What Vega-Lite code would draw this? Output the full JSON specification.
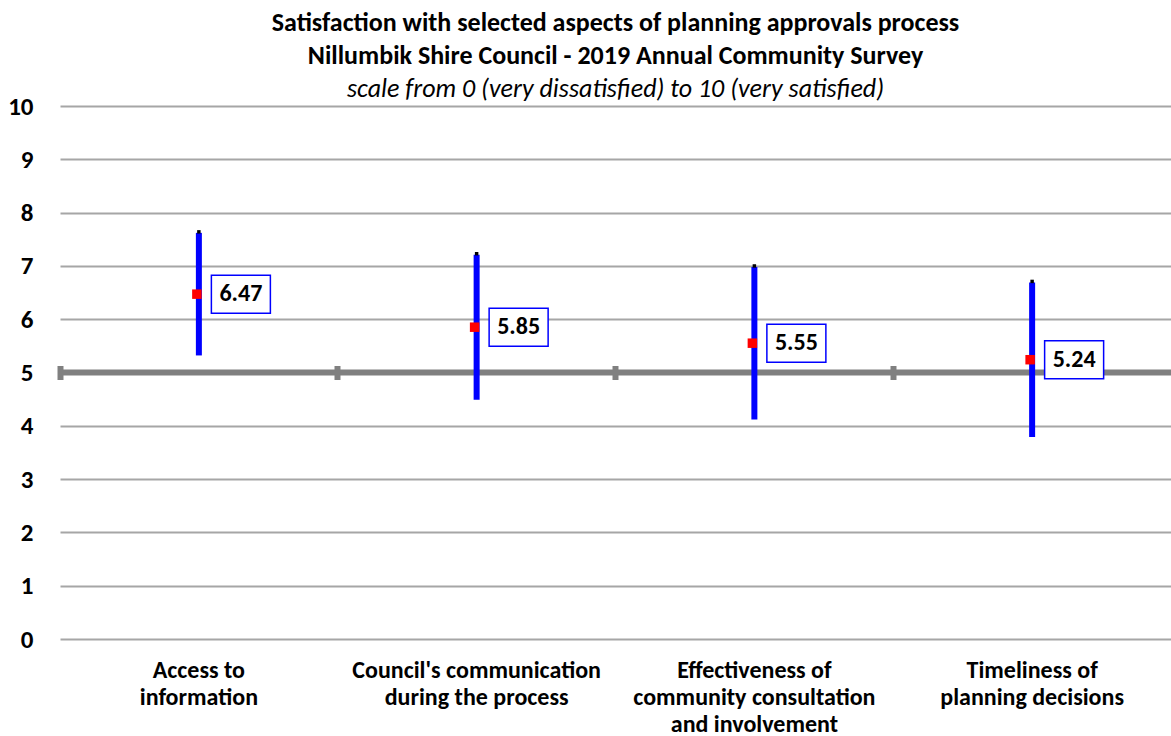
{
  "$schema": "https://vega.github.io/schema/vega-lite/v6.json",
  "width": 1111,
  "height": 533,
  "autosize": {"type": "none"},
  "padding": {"left": 60, "top": 106, "right": 0, "bottom": 97},
  "background": "white",
  "title": {
    "text": ["Satisfaction  with selected aspects of planning  approvals process", "Nillumbik Shire Council - 2019 Annual  Community Survey"],
    "subtitle": "scale from 0 (very dissatisfied) to 10 (very satisfied)",
    "font": "Carlito, Liberation Sans Narrow, Liberation Sans",
    "fontSize": 26,
    "fontWeight": "bold",
    "lineHeight": 33,
    "color": "black",
    "subtitleFont": "Carlito, Liberation Sans Narrow, Liberation Sans",
    "subtitleFontSize": 26,
    "subtitleFontStyle": "italic",
    "subtitleColor": "black",
    "subtitleLineHeight": 33,
    "subtitlePadding": 7,
    "anchor": "middle",
    "offset": -8
  },
  "config": {"view": {"stroke": null}},
  "data": {
    "values": [
      {"aspect": "Access to information", "mean": 6.47, "lo": 5.32, "hi": 7.62},
      {"aspect": "Council's communication during the process", "mean": 5.85, "lo": 4.49, "hi": 7.21},
      {"aspect": "Effectiveness of community consultation and involvement", "mean": 5.55, "lo": 4.12, "hi": 6.98},
      {"aspect": "Timeliness of planning decisions", "mean": 5.24, "lo": 3.79, "hi": 6.69}
    ]
  },
  "resolve": {"axis": {"x": "independent"}},
  "layer": [
    {
      "data": {"values": [{}]},
      "mark": {"type": "rule", "color": "#808080", "strokeWidth": 6},
      "encoding": {
        "y": {"datum": 5, "type": "quantitative", "scale": {"domain": [0, 10]},
          "axis": {"values": [0,1,2,3,4,5,6,7,8,9,10], "grid": true, "gridColor": "#a6a6a6", "gridWidth": 2, "ticks": false, "domain": false,
            "labelFont": "Carlito, Liberation Sans Narrow, Liberation Sans", "labelFontSize": 25, "labelFontWeight": "bold", "labelColor": "black", "labelPadding": 27, "title": null}}
      }
    },
    {
      "mark": {"type": "rule", "color": "#0000ff", "strokeWidth": 6},
      "encoding": {
        "x": {"field": "aspect", "type": "nominal", "sort": null, "scale": {"paddingInner": 0, "paddingOuter": 0},
          "axis": {"orient": "bottom", "title": null, "domain": false, "ticks": false, "labelAngle": 0, "labelLimit": 0,
            "labelFont": "Carlito, Liberation Sans Narrow, Liberation Sans", "labelFontSize": 24, "labelFontWeight": "bold", "labelColor": "black", "labelPadding": 19, "labelLineHeight": 27,
            "labelExpr": "datum.value == 'Access to information' ? ['Access to', 'information'] : datum.value == \"Council's communication during the process\" ? [\"Council's communication\", 'during the process'] : datum.value == 'Effectiveness of community consultation and involvement' ? ['Effectiveness of', 'community consultation', 'and involvement'] : ['Timeliness of', 'planning decisions']"}},
        "y": {"field": "lo", "type": "quantitative"},
        "y2": {"field": "hi"}
      }
    },
    {
      "mark": {"type": "point", "shape": "square", "filled": true, "color": "black", "size": 12, "yOffset": -1, "opacity": 1},
      "encoding": {
        "x": {"field": "aspect", "type": "nominal", "sort": null, "axis": null},
        "y": {"field": "hi", "type": "quantitative"}
      }
    },
    {
      "mark": {"type": "point", "shape": "square", "filled": true, "color": "#ff0000", "size": 90, "xOffset": -2, "opacity": 1},
      "encoding": {
        "x": {"field": "aspect", "type": "nominal", "sort": null, "axis": null},
        "y": {"field": "mean", "type": "quantitative"}
      }
    },
    {
      "mark": {"type": "point", "shape": "M -1 -0.644 L 1 -0.644 L 1 0.644 L -1 0.644 Z", "filled": true, "fill": "white", "stroke": "#0000ff", "strokeWidth": 1.5, "size": 3481, "xOffset": 42, "opacity": 1, "fillOpacity": 1, "strokeOpacity": 1},
      "encoding": {
        "x": {"field": "aspect", "type": "nominal", "sort": null,
          "axis": {"orient": "top", "offset": -273.5, "bandPosition": 0, "domain": false, "labels": false, "ticks": true, "tickSize": 14, "tickWidth": 6, "tickColor": "#808080", "title": null, "grid": false}},
        "y": {"field": "mean", "type": "quantitative"}
      }
    },
    {
      "mark": {"type": "text", "xOffset": 42, "font": "Carlito, Liberation Sans Narrow, Liberation Sans", "fontSize": 24, "fontWeight": "bold", "color": "black", "align": "center", "baseline": "middle"},
      "encoding": {
        "x": {"field": "aspect", "type": "nominal", "sort": null, "axis": null},
        "y": {"field": "mean", "type": "quantitative"},
        "text": {"field": "mean", "type": "quantitative", "format": ".2f"}
      }
    }
  ]
}
